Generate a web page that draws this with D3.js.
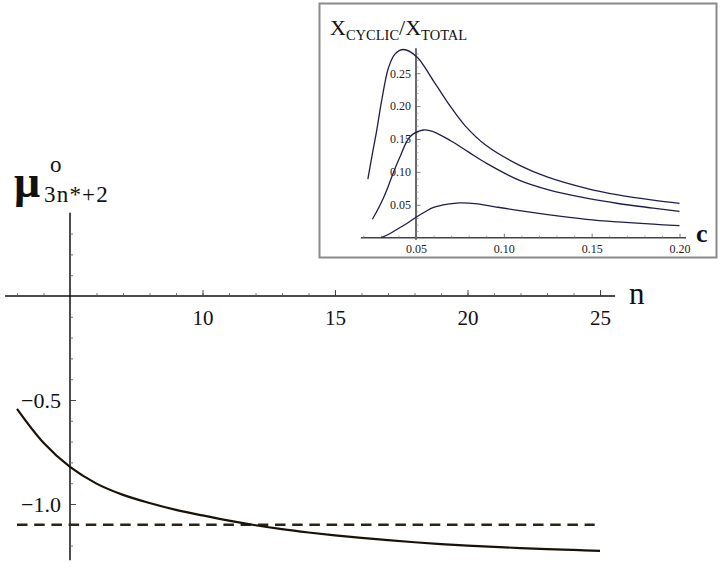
<!DOCTYPE html>
<html>
<head>
<meta charset="utf-8">
<script src="https://cdn.jsdelivr.net/npm/d3@7"></script>
<style>
  html, body { margin: 0; padding: 0; background: #fff; }
  svg { display: block; font-family: "Liberation Serif", "DejaVu Serif", serif; }
</style>
</head>
<body>
<svg id="chart" width="723" height="568"></svg>
<script>
// ---------- main chart data ----------
const mainN = [3,4,5,6,7,8,9,10,11,12,13,14,15,16,17,18,19,20,21,22,23,24,25];
const mainMu = [-0.543,-0.706,-0.822,-0.902,-0.956,-0.995,-1.028,-1.055,-1.080,-1.102,-1.121,-1.137,-1.151,-1.163,-1.174,-1.184,-1.193,-1.200,-1.206,-1.212,-1.217,-1.221,-1.225];
const dashedLevel = -1.1;
const dashedRange = [3, 24.8];
const mainXTicks = [10, 15, 20, 25];
const mainYTicks = [-0.5, -1.0];

// ---------- inset data ----------
const insetC1 = [0.0226,0.025,0.0277,0.0305,0.0343,0.038,0.0428,0.0504,0.06,0.07,0.078,0.09,0.109,0.125,0.147,0.165,0.185,0.2];
const insetY1 = [0.089,0.125,0.164,0.209,0.258,0.279,0.286,0.275,0.238,0.198,0.170,0.140,0.110,0.092,0.075,0.065,0.057,0.0523];
const insetC2 = [0.0252,0.03,0.0334,0.037,0.0409,0.0466,0.0542,0.06,0.07,0.08,0.0902,0.109,0.125,0.147,0.165,0.185,0.2];
const insetY2 = [0.028,0.052,0.0725,0.098,0.123,0.1535,0.1637,0.161,0.147,0.130,0.113,0.087,0.073,0.060,0.052,0.045,0.040];
const insetC3 = [0.0302,0.035,0.04,0.045,0.05,0.055,0.06,0.068,0.075,0.085,0.095,0.109,0.125,0.147,0.165,0.185,0.2];
const insetY3 = [0.0,0.006,0.014,0.022,0.031,0.039,0.046,0.051,0.053,0.0515,0.047,0.041,0.035,0.028,0.024,0.0205,0.0182];
const insetXTicks = [0.05, 0.10, 0.15, 0.20];
const insetYTicks = [0.05, 0.10, 0.15, 0.20, 0.25];

const svg = d3.select("#chart");
const SERIF = "Liberation Serif";

// ================= MAIN =================
const x = d3.scaleLinear().domain([5, 25]).range([70, 600]);
const y = d3.scaleLinear().domain([0, -1]).range([296, 504]);
const gMain = svg.append("g");

gMain.append("line").attr("x1", x(2.55)).attr("x2", x(25.57)).attr("y1", y(0)).attr("y2", y(0))
  .attr("stroke", "#111").attr("stroke-width", 1.5);
gMain.append("line").attr("x1", x(5)).attr("x2", x(5)).attr("y1", y(0.4)).attr("y2", y(-1.27))
  .attr("stroke", "#111").attr("stroke-width", 1.5);

const xMinor = d3.range(3, 26).filter(v => v !== 5);
gMain.append("g").attr("transform", `translate(0,${y(0)})`)
  .call(d3.axisBottom(x).tickValues(xMinor).tickSize(-3).tickFormat(""))
  .call(g => g.select(".domain").remove())
  .call(g => g.selectAll("line").attr("stroke", "#555").attr("stroke-width", 0.8));
gMain.append("g").attr("transform", `translate(0,${y(0)})`)
  .attr("font-family", SERIF)
  .call(d3.axisBottom(x).tickValues(mainXTicks).tickSize(-6).tickPadding(14).tickFormat(d3.format("d")))
  .call(g => g.select(".domain").remove())
  .call(g => g.attr("font-family", SERIF))
  .call(g => g.selectAll("line").attr("stroke", "#333").attr("stroke-width", 0.9))
  .call(g => g.selectAll("text").attr("font-size", 21).attr("fill", "#111").attr("font-family", SERIF));

const yMinor = [0.3,0.2,0.1,-0.1,-0.2,-0.3,-0.4,-0.6,-0.7,-0.8,-0.9,-1.1,-1.2];
gMain.append("g").attr("transform", `translate(${x(5)},0)`)
  .call(d3.axisLeft(y).tickValues(yMinor).tickSize(-3).tickFormat(""))
  .call(g => g.select(".domain").remove())
  .call(g => g.selectAll("line").attr("stroke", "#555").attr("stroke-width", 0.8));
gMain.append("g").attr("transform", `translate(${x(5)},0)`)
  .call(d3.axisLeft(y).tickValues(mainYTicks).tickSize(-6).tickPadding(9).tickFormat(d3.format(".1f")))
  .call(g => g.select(".domain").remove())
  .call(g => g.attr("font-family", SERIF))
  .call(g => g.selectAll("line").attr("stroke", "#333").attr("stroke-width", 0.9))
  .call(g => g.selectAll("text").attr("font-size", 22).attr("fill", "#111").attr("font-family", SERIF));

gMain.append("line").attr("x1", x(dashedRange[0])).attr("x2", x(dashedRange[1]))
  .attr("y1", y(dashedLevel)).attr("y2", y(dashedLevel))
  .attr("stroke", "#2a2418").attr("stroke-width", 2.6).attr("stroke-dasharray", "10.5,6.7");

const mainData = mainN.map((n, i) => [n, mainMu[i]]);
gMain.append("path").datum(mainData)
  .attr("d", d3.line().x(d => x(d[0])).y(d => y(d[1])).curve(d3.curveCatmullRom.alpha(0.5)))
  .attr("fill", "none").attr("stroke", "#1a1208").attr("stroke-width", 2.2);

gMain.append("text").attr("x", 629).attr("y", 304).attr("font-size", 31).attr("fill", "#111")
  .attr("font-family", SERIF).text("n");
gMain.append("text").attr("x", 14).attr("y", 197).attr("font-size", 46).attr("font-weight", "bold")
  .attr("fill", "#111").attr("font-family", SERIF).text("μ");
gMain.append("text").attr("x", 44).attr("y", 202).attr("font-size", 23).attr("letter-spacing", 1.2)
  .attr("fill", "#111").attr("font-family", SERIF).text("3n*+2");
gMain.append("text").attr("x", 50).attr("y", 172).attr("font-size", 23).attr("fill", "#111")
  .attr("font-family", SERIF).text("o");

// ================= INSET =================
const gIn = svg.append("g");
gIn.append("rect").attr("x", 319.5).attr("y", 3.5).attr("width", 397).attr("height", 254)
  .attr("fill", "#fff").attr("stroke", "#8a8a8a").attr("stroke-width", 2);

const ix = d3.scaleLinear().domain([0.05, 0.20]).range([416, 679.5]);
const iy = d3.scaleLinear().domain([0, 0.25]).range([237.7, 73.2]);

gIn.append("line").attr("x1", ix(0.0186)).attr("x2", ix(0.2037)).attr("y1", iy(0)).attr("y2", iy(0))
  .attr("stroke", "#444").attr("stroke-width", 1.4);
const ixMinor = d3.range(2, 21).map(v => v / 100).filter(v => Math.round(v * 100) % 5 !== 0);
gIn.append("g").attr("transform", `translate(0,${iy(0)})`)
  .call(d3.axisBottom(ix).tickValues(ixMinor).tickSize(-2).tickFormat(""))
  .call(g => g.select(".domain").remove())
  .call(g => g.selectAll("line").attr("stroke", "#777").attr("stroke-width", 0.7));
gIn.append("g").attr("transform", `translate(0,${iy(0)})`)
  .call(d3.axisBottom(ix).tickValues(insetXTicks).tickSize(-4).tickPadding(7).tickFormat(d3.format(".2f")))
  .call(g => g.select(".domain").remove())
  .call(g => g.attr("font-family", SERIF))
  .call(g => g.selectAll("line").attr("stroke", "#555").attr("stroke-width", 0.8))
  .call(g => g.selectAll("text").attr("font-size", 12).attr("fill", "#222").attr("font-family", SERIF));

gIn.append("line").attr("x1", ix(0.05)).attr("x2", ix(0.05)).attr("y1", iy(-0.003)).attr("y2", iy(0.288))
  .attr("stroke", "#6a6a6a").attr("stroke-width", 2);
const iyMinor = d3.range(1, 29).map(v => v / 100).filter(v => Math.round(v * 100) % 5 !== 0);
gIn.append("g").attr("transform", `translate(${ix(0.05)},0)`)
  .call(d3.axisLeft(iy).tickValues(iyMinor).tickSize(-2.5).tickFormat(""))
  .call(g => g.select(".domain").remove())
  .call(g => g.selectAll("line").attr("stroke", "#888").attr("stroke-width", 0.7));
gIn.append("g").attr("transform", `translate(${ix(0.05)},0)`)
  .call(d3.axisLeft(iy).tickValues(insetYTicks).tickSize(-4.5).tickPadding(5).tickFormat(d3.format(".2f")))
  .call(g => g.select(".domain").remove())
  .call(g => g.attr("font-family", SERIF))
  .call(g => g.selectAll("line").attr("stroke", "#666").attr("stroke-width", 0.8))
  .call(g => g.selectAll("text").attr("font-size", 12).attr("fill", "#222").attr("font-family", SERIF));

const insetLine = d3.line().x(d => ix(d[0])).y(d => iy(d[1])).curve(d3.curveCatmullRom.alpha(0.5));
[[insetC1, insetY1], [insetC2, insetY2], [insetC3, insetY3]].forEach(([cs, ys]) => {
  gIn.append("path").datum(cs.map((c, i) => [c, ys[i]]))
    .attr("d", insetLine).attr("fill", "none").attr("stroke", "#1e1e4c").attr("stroke-width", 1.3);
});

const t = gIn.append("text").attr("x", 330).attr("y", 35).attr("fill", "#111").attr("font-family", SERIF);
t.append("tspan").attr("font-size", 22).text("X");
t.append("tspan").attr("font-size", 14.5).attr("dy", 5).text("CYCLIC");
t.append("tspan").attr("font-size", 22).attr("dy", -5).text("/X");
t.append("tspan").attr("font-size", 14.5).attr("dy", 5).text("TOTAL");
gIn.append("text").attr("x", 696).attr("y", 242).attr("font-size", 26).attr("font-weight", "bold")
  .attr("fill", "#111").attr("font-family", SERIF).text("c");
</script>
</body>
</html>
